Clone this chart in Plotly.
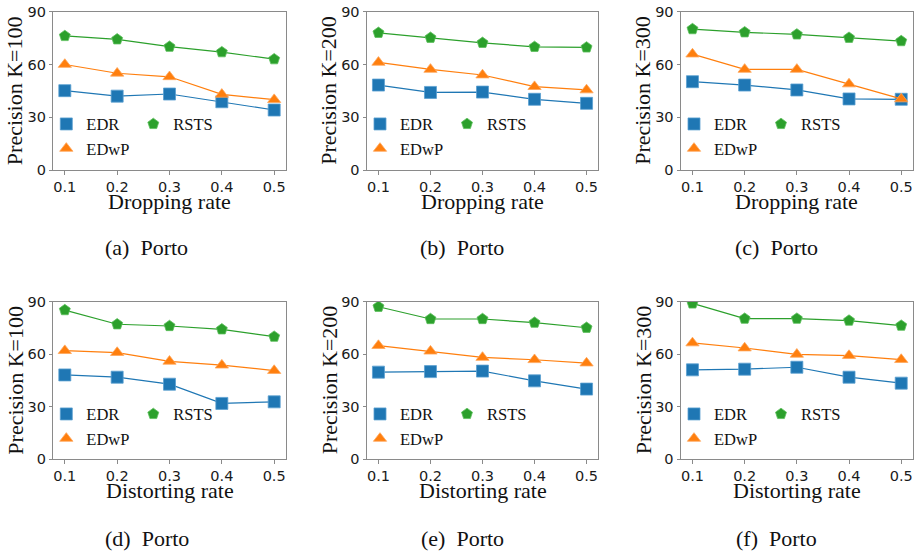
import plotly.graph_objects as go

W, H = 921, 553

rates = [0.1, 0.2, 0.3, 0.4, 0.5]
x_tick_labels = ["0.1", "0.2", "0.3", "0.4", "0.5"]
y_ticks = [0, 30, 60, 90]
methods = ["EDR", "EDwP", "RSTS"]

# Dropping-rate experiments (top row)
edr_drop_k100 = [45.1, 42.0, 43.2, 38.8, 34.1]
edwp_drop_k100 = [60.0, 55.0, 53.0, 43.0, 40.0]
rsts_drop_k100 = [76.2, 74.3, 70.1, 67.0, 63.0]

edr_drop_k200 = [48.3, 44.1, 44.3, 40.2, 37.9]
edwp_drop_k200 = [61.2, 57.2, 54.0, 47.4, 45.5]
rsts_drop_k200 = [78.0, 75.2, 72.3, 70.0, 69.7]

edr_drop_k300 = [50.2, 48.3, 45.5, 40.4, 40.2]
edwp_drop_k300 = [65.9, 57.2, 57.2, 48.9, 40.4]
rsts_drop_k300 = [80.1, 78.3, 77.1, 75.2, 73.3]

# Distorting-rate experiments (bottom row)
edr_dist_k100 = [48.1, 46.8, 42.8, 31.8, 32.7]
edwp_dist_k100 = [62.0, 60.9, 55.9, 53.7, 50.6]
rsts_dist_k100 = [85.2, 77.1, 76.1, 74.2, 70.0]

edr_dist_k200 = [49.7, 50.0, 50.3, 44.7, 40.0]
edwp_dist_k200 = [64.9, 61.7, 58.1, 56.8, 54.9]
rsts_dist_k200 = [87.1, 80.1, 80.1, 78.0, 75.1]

edr_dist_k300 = [51.0, 51.4, 52.5, 46.8, 43.4]
edwp_dist_k300 = [66.4, 63.5, 59.9, 59.2, 56.9]
rsts_dist_k300 = [89.0, 80.3, 80.3, 79.2, 76.3]

y_titles = ["Precision K=100", "Precision K=200", "Precision K=300"] * 2
x_titles = ["Dropping rate"] * 3 + ["Distorting rate"] * 3
captions = ["(a)\u00a0\u00a0Porto", "(b)\u00a0\u00a0Porto", "(c)\u00a0\u00a0Porto",
            "(d)\u00a0\u00a0Porto", "(e)\u00a0\u00a0Porto", "(f)\u00a0\u00a0Porto"]

panels = [
    (edr_drop_k100, edwp_drop_k100, rsts_drop_k100),
    (edr_drop_k200, edwp_drop_k200, rsts_drop_k200),
    (edr_drop_k300, edwp_drop_k300, rsts_drop_k300),
    (edr_dist_k100, edwp_dist_k100, rsts_dist_k100),
    (edr_dist_k200, edwp_dist_k200, rsts_dist_k200),
    (edr_dist_k300, edwp_dist_k300, rsts_dist_k300),
]

colors = ["#1f77b4", "#ff7f0e", "#2ca02c"]
edge_colors = ["#5a9fd0", "#ffa65a", "#5cbf5c"]
symbols = ["square", "triangle-up", "pentagon"]
msizes = [12, 11.5, 11.5]

# pixel geometry of the panels
col_x = [(53.3, 285.7), (367.0, 598.0), (681.0, 912.7)]
row_y = [(11.7, 170.0), (301.7, 459.0)]
cap_x = [146.5, 462.0, 776.0]
cap_y = [247.0, 538.0]


def px(xw):
    return xw / W


def py(yw):
    return 1 - yw / H


SERIF = "Liberation Serif"
SANS = "DejaVu Sans"

fig = go.Figure()
layout = dict(
    width=W, height=H,
    margin=dict(l=0, r=0, t=0, b=0, autoexpand=False),
    paper_bgcolor="white", plot_bgcolor="white",
    showlegend=True,
)
annotations = []

for i, series in enumerate(panels):
    r, c = divmod(i, 3)
    ax = "" if i == 0 else str(i + 1)
    xa, ya = "x" + ax, "y" + ax
    x0, x1 = col_x[c]
    yt, yb = row_y[r]
    axis_common = dict(
        showline=True, linecolor="#8a8a8a", linewidth=1, mirror=True,
        ticks="outside", ticklen=3.5, tickwidth=1, tickcolor="#8a8a8a",
        showgrid=False, zeroline=False, automargin=False,
        tickfont=dict(family=SANS, size=14.5, color="#1a1a1a"),
    )
    layout["xaxis" + ax] = dict(
        domain=[px(x0), px(x1)], anchor=ya,
        range=[0.078, 0.522], tickvals=rates, ticktext=x_tick_labels,
        **axis_common)
    layout["yaxis" + ax] = dict(
        domain=[py(yb), py(yt)], anchor=xa,
        range=[0, 90], tickvals=y_ticks, ticktext=[str(v) for v in y_ticks],
        **axis_common)

    legA = "legend" if i == 0 else "legend%d" % (2 * i + 1)
    legB = "legend%d" % (2 * i + 2)
    for k, vals in enumerate(series):
        fig.add_trace(go.Scatter(
            x=rates, y=vals, mode="lines", xaxis=xa, yaxis=ya,
            line=dict(color=colors[k], width=1.2), showlegend=False,
            hoverinfo="skip"))
        fig.add_trace(go.Scatter(
            x=rates, y=vals, mode="markers", xaxis=xa, yaxis=ya,
            name=methods[k],
            marker=dict(symbol=symbols[k], size=msizes[k], color=colors[k],
                        line=dict(color=edge_colors[k], width=0.8)),
            legend=legA if k < 2 else legB, showlegend=True))

    leg_common = dict(
        bgcolor="rgba(0,0,0,0)", borderwidth=0,
        font=dict(family=SERIF, size=16.5, color="#111"),
        xanchor="left", yanchor="top", itemwidth=30, tracegroupgap=0,
        orientation="v", itemclick=False, itemdoubleclick=False,
    )
    top_w = yt + 95.0
    layout[legA] = dict(x=px(x0 - 7.0), y=py(top_w), **leg_common)
    layout[legB] = dict(x=px(x0 + 80.0), y=py(top_w), **leg_common)

    # axis titles
    annotations.append(dict(
        text=y_titles[i], xref="paper", yref="paper",
        x=px(x0 - 38.0), y=py((yt + yb) / 2),
        xanchor="center", yanchor="middle", textangle=-90, showarrow=False,
        font=dict(family=SERIF, size=22, color="#111")))
    annotations.append(dict(
        text=x_titles[i], xref="paper", yref="paper",
        x=px((x0 + x1) / 2), y=py(yb + 31.5),
        xanchor="center", yanchor="middle", showarrow=False,
        font=dict(family=SERIF, size=22, color="#111")))
    annotations.append(dict(
        text=captions[i], xref="paper", yref="paper",
        x=px(cap_x[c]), y=py(cap_y[r]),
        xanchor="center", yanchor="middle", showarrow=False,
        font=dict(family=SERIF, size=22, color="#111")))

layout["annotations"] = annotations
fig.update_layout(**layout)
# the page's default 8px body margin would push the fixed-size figure
# partly outside the 921x553 window, so remove it
fig.write_html("out.html",
               config={"displayModeBar": False},
               post_script="document.body.style.margin='0px';")
